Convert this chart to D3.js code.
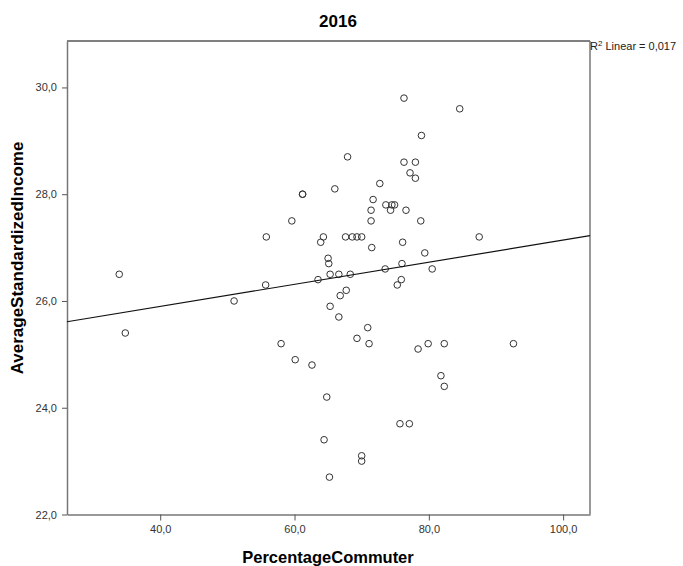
<!DOCTYPE html>
<html>
<head>
<meta charset="utf-8">
<script src="https://cdn.jsdelivr.net/npm/d3@7"></script>
<style>
  body { margin: 0; background: #fff; }
  text { font-family: "Liberation Sans", Arial, sans-serif; }
</style>
</head>
<body>
<svg width="683" height="566"></svg>
<script>
// values
const commuter = [61.2, 61.2, 59.6, 55.8, 64.3, 63.9, 65.0, 33.9, 55.7, 63.5,
	76.3, 84.6, 78.9, 67.9, 76.3, 78.0, 77.2, 78.0, 72.7, 66.0,
	71.7, 71.4, 73.6, 74.5, 74.9, 74.3, 76.6, 71.4, 78.8, 67.6,
	68.6, 69.3, 70.0, 87.5, 71.5, 76.1, 79.4, 76.0, 73.5, 80.5,
	65.3, 66.6, 68.3, 75.9, 75.3, 67.7, 51.0, 65.3, 34.8, 58.0,
	60.1, 62.6, 64.8, 64.4, 65.2, 66.8, 66.6, 70.9, 69.3, 71.1,
	78.4, 79.9, 82.3, 92.6, 81.8, 82.3, 75.7, 77.1, 70.0, 70.0, 65.1]
const income = [28.0, 28.0, 27.5, 27.2, 27.2, 27.1, 26.8, 26.5, 26.3, 26.4,
	29.8, 29.6, 29.1, 28.7, 28.6, 28.6, 28.4, 28.3, 28.2, 28.1,
	27.9, 27.7, 27.8, 27.8, 27.8, 27.7, 27.7, 27.5, 27.5, 27.2,
	27.2, 27.2, 27.2, 27.2, 27.0, 27.1, 26.9, 26.7, 26.6, 26.6,
	26.5, 26.5, 26.5, 26.4, 26.3, 26.2, 26.0, 25.9, 25.4, 25.2,
	24.9, 24.8, 24.2, 23.4, 22.7, 26.1, 25.7, 25.5, 25.3, 25.2,
	25.1, 25.2, 25.2, 25.2, 24.6, 24.4, 23.7, 23.7, 23.1, 23.0, 26.7]
const xTicks = [40, 60, 80, 100]
const yTicks = [22, 24, 26, 28, 30]
// linear fit line
const fitIntercept = 25.07
const fitSlope = 0.0207
const rSquared = "0,017"

const svg = d3.select("svg")
const fmt = d => d.toFixed(1).replace(".", ",")

const x = d3.scaleLinear().domain([26.12, 104]).range([67, 590])
const y = d3.scaleLinear().domain([22, 30.87]).range([514.5, 41])

const data = commuter.map((c, i) => ({ c: c, v: income[i] }))

// frame
svg.append("line")
	.attr("x1", x.range()[0]).attr("x2", x.range()[1])
	.attr("y1", y.range()[1]).attr("y2", y.range()[1])
	.attr("stroke", "#000").attr("stroke-width", 1)
svg.append("line")
	.attr("x1", x.range()[1]).attr("x2", x.range()[1])
	.attr("y1", y.range()[1]).attr("y2", y.range()[0])
	.attr("stroke", "#777").attr("stroke-width", 1.5)

// axes
const xAxis = svg.append("g")
	.attr("transform", `translate(0,${y.range()[0]})`)
	.call(d3.axisBottom(x).tickValues(xTicks).tickFormat(fmt).tickSize(6).tickPadding(5).tickSizeOuter(0))
const yAxis = svg.append("g")
	.attr("transform", `translate(${x.range()[0]},0)`)
	.call(d3.axisLeft(y).tickValues(yTicks).tickFormat(fmt).tickSize(5).tickPadding(5).tickSizeOuter(0))

for (const g of [xAxis, yAxis]) {
	g.select(".domain").attr("stroke", "#777").attr("stroke-width", 1.5)
	g.selectAll(".tick line").attr("stroke", "#555")
	g.selectAll(".tick text").attr("fill", "#333").style("font-size", "11px")
}

// points
svg.append("g")
	.selectAll("circle")
	.data(data)
	.join("circle")
	.attr("cx", d => x(d.c))
	.attr("cy", d => y(d.v))
	.attr("r", 3.3)
	.attr("fill", "none")
	.attr("stroke", "#333")
	.attr("stroke-width", 1)

// fit line
const xd = x.domain()
svg.append("line")
	.attr("x1", x(xd[0])).attr("y1", y(fitIntercept + fitSlope * xd[0]))
	.attr("x2", x(xd[1])).attr("y2", y(fitIntercept + fitSlope * xd[1]))
	.attr("stroke", "#111")
	.attr("stroke-width", 1.2)

// texts
svg.append("text")
	.attr("x", 338).attr("y", 27)
	.attr("text-anchor", "middle")
	.attr("font-weight", "bold")
	.style("font-size", "17px")
	.text("2016")

const r2 = svg.append("text")
	.attr("x", 590).attr("y", 50)
	.style("font-size", "11px")
	.attr("fill", "#222")
r2.append("tspan").text("R")
r2.append("tspan").attr("dy", -4).style("font-size", "8px").text("2")
r2.append("tspan").attr("dy", 4).text(` Linear = ${rSquared}`)

svg.append("text")
	.attr("x", 328).attr("y", 563)
	.attr("text-anchor", "middle")
	.attr("font-weight", "bold")
	.style("font-size", "16.5px")
	.text("PercentageCommuter")

svg.append("text")
	.attr("transform", "translate(23,258) rotate(-90)")
	.attr("text-anchor", "middle")
	.attr("font-weight", "bold")
	.style("font-size", "17px")
	.text("AverageStandardizedIncome")
</script>
</body>
</html>
